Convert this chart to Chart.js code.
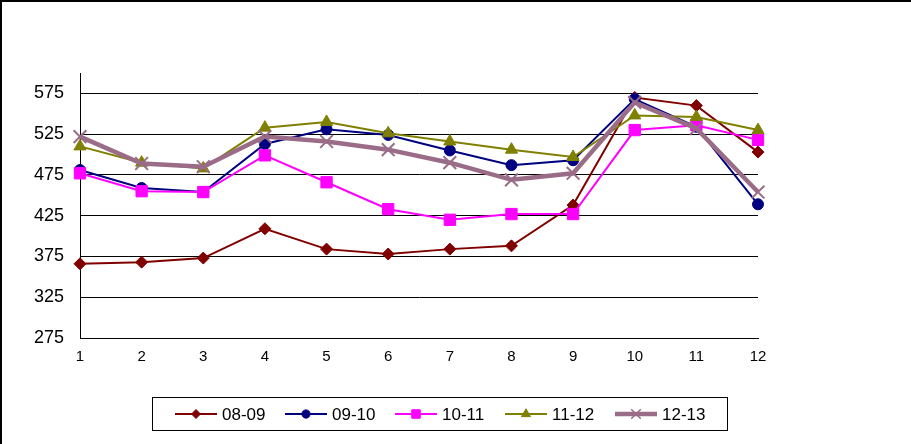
<!DOCTYPE html>
<html>
<head>
<meta charset="utf-8">
<script src="https://cdn.jsdelivr.net/npm/chart.js@4.4.1/dist/chart.umd.min.js"></script>
<style>
  html, body { margin: 0; padding: 0; background: #fff; }
  #wrap { width: 911px; height: 444px; position: relative; }
</style>
</head>
<body>
<div id="wrap"><canvas id="chart" width="911" height="444"></canvas></div>
<script>
// Data
const labels = ['1', '2', '3', '4', '5', '6', '7', '8', '9', '10', '11', '12'];
const seriesNames = ['08-09', '09-10', '10-11', '11-12', '12-13'];
const s0809 = [366, 368, 373, 409, 384, 378, 384, 388, 438, 570, 560, 503];
const s0910 = [481, 459, 454, 513, 531, 524, 505, 487, 493, 568, 534, 439];
const s1011 = [477, 455, 454, 499, 466, 433, 420, 427, 427, 530, 536, 518];
const s1112 = [510, 490, 483, 533, 540, 526, 516, 506, 497, 548, 546, 530];
const s1213 = [522, 489, 485, 522, 516, 506, 490, 469, 477, 564, 532, 454];
const yTicks = [275, 325, 375, 425, 475, 525, 575];
const yMin = 275;
const yMax = 600;

const FONT = "'Liberation Sans', Arial, sans-serif";

const styles = [
    { color: '#800000', point: 'rectRot', radius: 6, width: 2 },
    { color: '#000080', point: 'circle', radius: 5.5, width: 2 },
    { color: '#ff00ff', point: 'rect', radius: 8, width: 2 },
    { color: '#808000', point: 'triangle', radius: 7, width: 2 },
    { color: '#9a6c88', point: 'crossRot', radius: 9, width: 4.5 }
];
const seriesData = [s0809, s0910, s1011, s1112, s1213];

const datasets = seriesNames.map(function (name, i) {
    const st = styles[i];
    return {
        label: name,
        data: seriesData[i],
        borderColor: st.color,
        backgroundColor: st.color,
        borderWidth: st.width,
        pointStyle: st.point,
        pointRadius: st.radius,
        pointBackgroundColor: st.color,
        pointBorderColor: st.color,
        pointBorderWidth: i === 4 ? 2 : 1,
        tension: 0,
        order: seriesNames.length - i // later series on top, like the original
    };
});

// Frame lines on the top/left edge + boxed legend below the plot
const decorPlugin = {
    id: 'decor',
    afterDraw: function (chart) {
        const ctx = chart.ctx;
        ctx.save();
        ctx.strokeStyle = '#000';
        ctx.lineWidth = 2;
        ctx.beginPath();
        ctx.moveTo(1, 444);
        ctx.lineTo(1, 1);
        ctx.lineTo(911, 1);
        ctx.stroke();

        // legend box
        const bx = 152.5, by = 397.5, bw = 575, bh = 33;
        ctx.lineWidth = 1;
        ctx.strokeRect(bx, by, bw, bh);

        const cy = by + bh / 2;
        ctx.font = '17px ' + FONT;
        ctx.textBaseline = 'middle';
        ctx.textAlign = 'left';
        seriesNames.forEach(function (name, i) {
            const st = styles[i];
            const x0 = 175 + i * 110;
            ctx.strokeStyle = st.color;
            ctx.fillStyle = st.color;
            ctx.lineWidth = st.width;
            ctx.beginPath();
            ctx.moveTo(x0, cy);
            ctx.lineTo(x0 + 42, cy);
            ctx.stroke();
            ctx.lineWidth = i === 4 ? 1.5 : 1;
            Chart.helpers.drawPoint(ctx, {
                pointStyle: st.point,
                radius: st.radius * 0.75,
                borderWidth: i === 4 ? 1.5 : 1,
                rotation: 0
            }, x0 + 21, cy);
            ctx.fillStyle = '#000';
            ctx.fillText(name, x0 + 47, cy + 1);
        });
        ctx.restore();
    }
};

const ctx = document.getElementById('chart').getContext('2d');
new Chart(ctx, {
    type: 'line',
    data: { labels: labels, datasets: datasets },
    options: {
        responsive: false,
        animation: false,
        layout: { padding: { left: 0, top: 73, right: 153, bottom: 76 } },
        plugins: {
            legend: { display: false },
            tooltip: { enabled: false }
        },
        scales: {
            x: {
                offset: false,
                grid: { display: false, drawTicks: false },
                border: { display: true, color: '#000', width: 1 },
                afterFit: function (scale) { scale.height = 30; },
                ticks: {
                    padding: 10,
                    color: '#000',
                    maxRotation: 0,
                    font: { family: FONT, size: 15 }
                }
            },
            y: {
                min: yMin,
                max: yMax,
                afterBuildTicks: function (scale) {
                    scale.ticks = yTicks.map(function (v) { return { value: v }; });
                },
                afterFit: function (scale) { scale.width = 80; },
                grid: { color: '#000', lineWidth: 1, drawTicks: false },
                border: { display: true, color: '#000', width: 1 },
                ticks: {
                    padding: 16,
                    color: '#000',
                    font: { family: FONT, size: 18 }
                }
            }
        }
    },
    plugins: [decorPlugin]
});
</script>
</body>
</html>
